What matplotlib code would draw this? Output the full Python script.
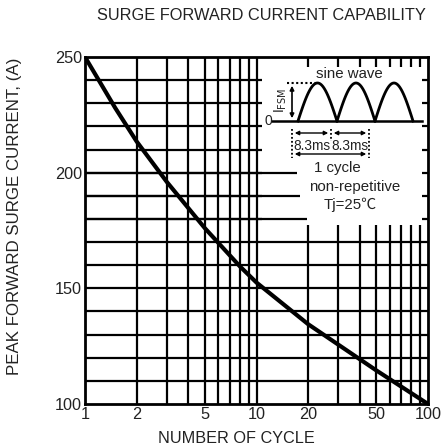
import numpy as np
import matplotlib.pyplot as plt
from matplotlib.patches import Rectangle, FancyArrowPatch

plt.rcParams['font.family'] = ['Liberation Sans', 'DejaVu Sans']

# curve
cycles = [1, 1.5, 2, 3, 5, 8, 10, 20, 50, 100]
current = [250, 228, 213.5, 196, 176, 159.5, 152.5, 134.5, 114.5, 100]

x_ticks = [1, 2, 5, 10, 20, 50, 100]
y_ticks = [100, 150, 200, 250]
x_grid = [2, 3, 4, 5, 6, 7, 8, 9, 10, 20, 30, 40, 50, 60, 70, 80, 90]
y_grid = [110, 120, 130, 140, 150, 160, 170, 180, 190, 200, 210, 220, 230, 240]

# inset box (data units)
box_x0, box_x1 = 10.8, 92.3
box_y0, box_y1 = 177.4, 245.7
# lower lines reaching further into the box
long_stubs = {200: 17.2, 190: 17.9, 180: 19.7}

txt = '#222222'
fig = plt.figure(figsize=(4.46, 4.48), dpi=100)
ax = fig.add_axes([85 / 446, 1 - 404 / 448, 343 / 446, 347 / 448])
ax.set_xscale('log')
ax.set_xlim(1, 100)
ax.set_ylim(100, 250)

lw_grid = 1.6
for xv in x_grid:
    ax.plot([xv, xv], [100, 250], color='k', lw=lw_grid, zorder=1, solid_capstyle='butt')
for yv in y_grid:
    ax.plot([1, 100], [yv, yv], color='k', lw=lw_grid, zorder=1, solid_capstyle='butt')

ax.add_patch(Rectangle((box_x0, box_y0), box_x1 - box_x0, box_y1 - box_y0,
                       facecolor='white', edgecolor='none', zorder=2))
for yv, xe in long_stubs.items():
    ax.plot([1, xe], [yv, yv], color='k', lw=lw_grid, zorder=3, solid_capstyle='butt')

ax.plot(cycles, current, color='k', lw=3, zorder=5, solid_capstyle='butt', solid_joinstyle='round')

for s in ax.spines.values():
    s.set_linewidth(2)
ax.set_xticks(x_ticks)
ax.set_xticklabels([str(v) for v in x_ticks])
ax.set_yticks(y_ticks)
ax.set_yticklabels([str(v) for v in y_ticks])
ax.minorticks_off()
ax.tick_params(length=0, labelsize=11.7, labelcolor=txt, pad=2)
ax.set_xlabel('NUMBER OF CYCLE', fontsize=11.7, color=txt, va='center')
ax.xaxis.set_label_coords((236.5 - 85) / 343, (404 - 438) / 347)
ax.set_ylabel('PEAK FORWARD SURGE CURRENT, (A)', fontsize=12.2, color=txt, va='center')
ax.yaxis.set_label_coords((15 - 85) / 343, (404 - 216) / 347)
fig.text(261 / 446, 1 - 15 / 448, 'SURGE FORWARD CURRENT CAPABILITY', fontsize=11.8,
         color=txt, ha='center', va='center')


# inset schematic, placed in pixel positions of the axes
def px(x, y):
    return ((x - 85) / 343, (404 - y) / 347)


tr = ax.transAxes
base_y, peak_y = 121, 83
humps = [(298, 337), (337, 375), (375, 413)]
for a, b in humps:
    t = np.linspace(0, np.pi, 60)
    xs = a + (b - a) * t / np.pi
    ys = base_y - (base_y - peak_y) * np.sin(t)
    pts = [px(x, y) for x, y in zip(xs, ys)]
    ax.plot([p[0] for p in pts], [p[1] for p in pts], transform=tr, color='k', lw=2, zorder=6)
p0, p1 = px(272, base_y), px(422, base_y)
ax.plot([p0[0], p1[0]], [p0[1], p1[1]], transform=tr, color='k', lw=1.8, zorder=6)
ax.text(*px(268, base_y), '0', transform=tr, ha='center', va='center', fontsize=10, color=txt, zorder=7)
ax.text(*px(349, 74), 'sine wave', transform=tr, ha='center', va='center', fontsize=10.8, color=txt, zorder=7)

# dotted peak line
d0, d1 = px(287, peak_y), px(317, peak_y)
ax.plot([d0[0], d1[0]], [d0[1], d1[1]], transform=tr, color='k', lw=1.5, ls=(0, (1, 1.2)), zorder=6)


def darrow(x0, y0, x1, y1, lw=1.0):
    a = FancyArrowPatch(px(x0, y0), px(x1, y1), transform=tr, arrowstyle='<|-|>',
                        mutation_scale=6, color='k', lw=lw, zorder=6)
    ax.add_patch(a)


darrow(292, peak_y, 292, base_y, 1.2)
ax.text(*px(281, 100), r'I$_{\rm FSM}$', transform=tr, rotation=90, ha='center', va='center',
        fontsize=10, color=txt, zorder=7)

for xv, yb in [(292, 158), (331, 141), (369, 158)]:
    a, b = px(xv, 129), px(xv, yb)
    ax.plot([a[0], b[0]], [a[1], b[1]], transform=tr, color='k', lw=1.3, ls=(0, (1, 1.2)), zorder=6)
darrow(292, 133, 331, 133)
darrow(331, 133, 369, 133)
darrow(292, 154, 369, 154)
ax.text(*px(312, 146), '8.3ms', transform=tr, ha='center', va='center', fontsize=9.8, color=txt, zorder=7)
ax.text(*px(350, 146), '8.3ms', transform=tr, ha='center', va='center', fontsize=9.8, color=txt, zorder=7)
ax.text(*px(337, 168), '1 cycle', transform=tr, ha='center', va='center', fontsize=10.8, color=txt, zorder=7)
ax.text(*px(355, 187), 'non-repetitive', transform=tr, ha='center', va='center', fontsize=10.8, color=txt, zorder=7)
ax.text(*px(350, 205), 'Tj=25\u2103', transform=tr, ha='center', va='center', fontsize=10.8, color=txt,
        family=['Liberation Sans', 'Noto Sans CJK SC', 'DejaVu Sans'], zorder=7)

fig.savefig('out.png', dpi=100)
